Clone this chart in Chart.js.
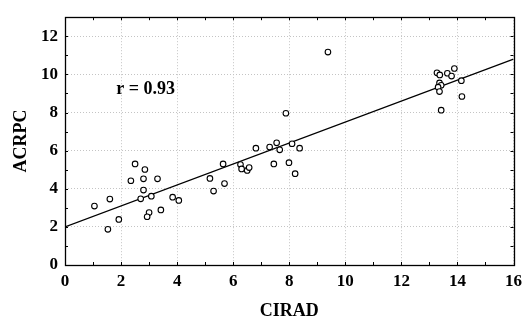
<!DOCTYPE html>
<html>
<head>
<meta charset="utf-8">
<script src="https://cdn.jsdelivr.net/npm/chart.js@4.4.1/dist/chart.umd.min.js"></script>
<style>
  html, body { margin: 0; padding: 0; background: #fff; }
  #wrap { width: 528px; height: 326px; }
</style>
</head>
<body>
<div id="wrap"><canvas id="myChart" width="528" height="326"></canvas></div>
<script>
// CIRAD (x) vs ACRPC (y) measurements
const cirad = [1.05, 1.60, 1.53, 1.92, 2.50, 2.85, 2.35, 2.80, 3.30, 2.80, 2.70, 3.08, 3.00, 2.93, 3.42, 3.84, 4.06,
               5.17, 5.69, 5.30, 5.64, 6.26, 6.30, 6.50, 6.57, 6.81, 7.30, 7.55, 7.66, 8.10, 8.37, 7.45, 7.99, 8.21, 7.88,
               9.38,
               13.27, 13.37, 13.64, 13.79, 13.89, 14.14, 13.36, 13.42, 13.31, 13.36, 14.16, 13.42];
const acrpc = [3.09, 3.46, 1.87, 2.39, 5.30, 5.01, 4.42, 4.52, 4.52, 3.93, 3.47, 3.61, 2.75, 2.53, 2.89, 3.56, 3.39,
               4.54, 4.27, 3.88, 5.30, 5.27, 5.04, 4.96, 5.11, 6.13, 6.19, 6.41, 6.04, 6.36, 6.13, 5.30, 5.37, 4.79, 7.96,
               11.17,
               10.08, 9.97, 10.06, 9.91, 10.31, 9.67, 9.55, 9.43, 9.33, 9.10, 8.84, 8.12];

// fitted line end points
const fitX = [0, 16];
const fitY = [2.0, 10.8];

const rLabel = 'r = 0.93';

const serif = '"Liberation Serif", "Times New Roman", serif';

// frame, minor ticks and r label
const framePlugin = {
    id: 'frame',
    afterDraw(chart) {
        const { ctx, chartArea: a, scales: { x, y } } = chart;
        ctx.save();
        ctx.strokeStyle = '#000';
        ctx.lineWidth = 1;
        ctx.beginPath();
        for (let v = 1; v < 16; v++) {
            const px = Math.round(x.getPixelForValue(v)) + 0.5;
            ctx.moveTo(px, a.top); ctx.lineTo(px, a.top + 3);
            ctx.moveTo(px, a.bottom); ctx.lineTo(px, a.bottom - 3);
        }
        for (let v = 1; v < 13; v++) {
            const py = Math.round(y.getPixelForValue(v)) + 0.5;
            ctx.moveTo(a.left, py); ctx.lineTo(a.left + 3, py);
            ctx.moveTo(a.right, py); ctx.lineTo(a.right - 3, py);
        }
        ctx.stroke();
        ctx.lineWidth = 1.3;
        ctx.strokeRect(Math.round(a.left) + 0.5, Math.round(a.top) + 0.5,
                       Math.round(a.right - a.left), Math.round(a.bottom - a.top));
        ctx.fillStyle = '#000';
        ctx.font = 'bold 18px ' + serif;
        ctx.textBaseline = 'middle';
        ctx.textAlign = 'left';
        ctx.fillText(rLabel, x.getPixelForValue(1.83), y.getPixelForValue(9.23));
        ctx.restore();
    }
};

let myChart;

function initializeChart() {
    const ctx = document.getElementById('myChart');
    myChart = new Chart(ctx, {
        type: 'scatter',
        data: {
            datasets: [{
                label: 'points',
                data: cirad.map((v, i) => ({ x: v, y: acrpc[i] })),
                pointRadius: 2.8,
                pointBorderWidth: 1.1,
                pointBorderColor: '#000',
                pointBackgroundColor: '#fff',
                order: 1
            }, {
                type: 'line',
                label: 'fit',
                data: fitX.map((v, i) => ({ x: v, y: fitY[i] })),
                borderColor: '#000',
                borderWidth: 1.2,
                pointRadius: 0,
                fill: false,
                order: 2
            }]
        },
        options: {
            responsive: false,
            animation: false,
            layout: { padding: { left: 11, right: 14, top: 8, bottom: 0 } },
            plugins: { legend: { display: false }, tooltip: { enabled: false } },
            scales: {
                x: {
                    type: 'linear',
                    min: 0, max: 16,
                    ticks: { stepSize: 2, color: '#000', padding: 6, font: { family: serif, size: 17, weight: 'bold' } },
                    grid: { color: '#c4c4c4', drawTicks: false },
                    border: { display: false, dash: [1, 2] },
                    title: { display: true, text: 'CIRAD', color: '#000', padding: { top: 3 }, font: { family: serif, size: 18, weight: 'bold' } },
                    afterFit: s => { s.height = 61; }
                },
                y: {
                    type: 'linear',
                    min: 0, max: 13,
                    afterBuildTicks: s => { s.ticks = s.ticks.filter(t => t.value % 2 === 0); },
                    ticks: { stepSize: 2, color: '#000', padding: 7, font: { family: serif, size: 17, weight: 'bold' } },
                    grid: { color: '#c4c4c4', drawTicks: false },
                    border: { display: false, dash: [1, 2] },
                    title: { display: true, text: 'ACRPC', color: '#000', padding: 0, font: { family: serif, size: 18, weight: 'bold' } },
                    afterFit: s => { s.width = 54; }
                }
            }
        },
        plugins: [framePlugin]
    });
}

document.addEventListener('DOMContentLoaded', function() {
    initializeChart();
});
</script>
</body>
</html>
